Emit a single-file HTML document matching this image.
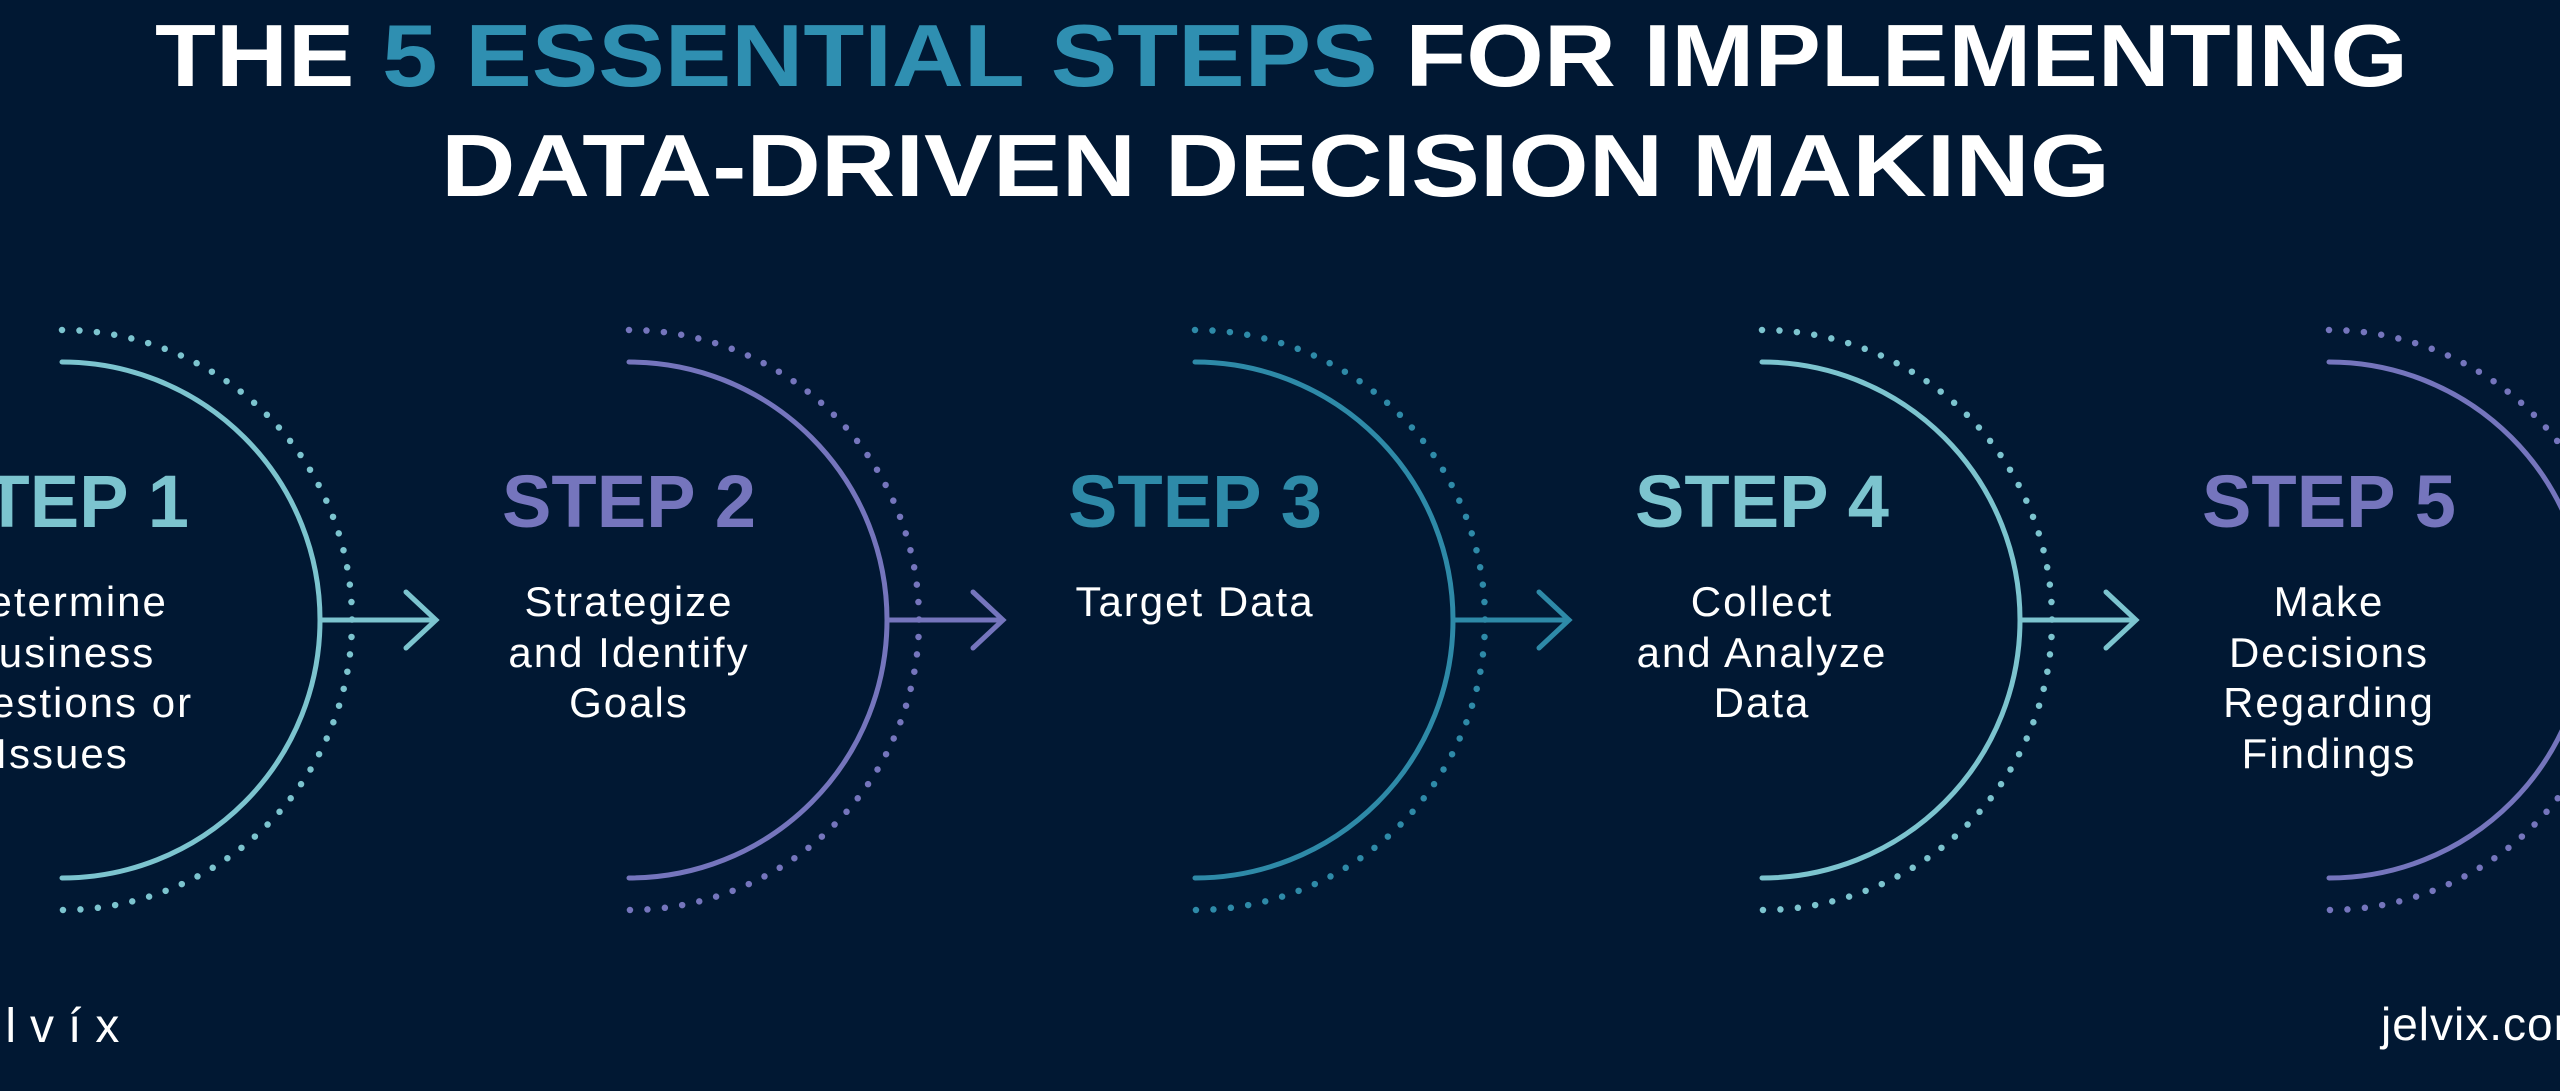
<!DOCTYPE html>
<html><head><meta charset="utf-8"><style>
html,body{margin:0;padding:0;background:#011833;}
svg{display:block}
text{font-family:"Liberation Sans",sans-serif;}
</style></head><body>
<svg width="2560" height="1091" viewBox="0 0 2560 1091" xmlns="http://www.w3.org/2000/svg">
<rect width="2560" height="1091" fill="#011833"/>
<text x="155" y="86" font-size="88" font-weight="bold" fill="#fff" textLength="2253" lengthAdjust="spacingAndGlyphs">THE <tspan fill="#2f8fb1">5 ESSENTIAL STEPS</tspan> FOR IMPLEMENTING</text>
<text x="441" y="196" font-size="88" font-weight="bold" fill="#fff" textLength="1669" lengthAdjust="spacingAndGlyphs">DATA-DRIVEN DECISION MAKING</text>

<g stroke-linecap="round" fill="none">
  <path d="M62 362 A258 258 0 0 1 62 878" stroke="#7cc4cf" stroke-width="5"/>
  <path d="M62 330 A290 290 0 0 1 62 910" stroke="#7cc4cf" stroke-width="6.5" stroke-dasharray="0 17.5"/>
  <path d="M320 620 H436 M406 592 L436 620 L406 648" stroke="#7cc4cf" stroke-width="5"/>
  <path d="M629 362 A258 258 0 0 1 629 878" stroke="#7575bd" stroke-width="5"/>
  <path d="M629 330 A290 290 0 0 1 629 910" stroke="#7575bd" stroke-width="6.5" stroke-dasharray="0 17.5"/>
  <path d="M887 620 H1003 M973 592 L1003 620 L973 648" stroke="#7575bd" stroke-width="5"/>
  <path d="M1195 362 A258 258 0 0 1 1195 878" stroke="#2e8aa8" stroke-width="5"/>
  <path d="M1195 330 A290 290 0 0 1 1195 910" stroke="#2e8aa8" stroke-width="6.5" stroke-dasharray="0 17.5"/>
  <path d="M1453 620 H1569 M1539 592 L1569 620 L1539 648" stroke="#2e8aa8" stroke-width="5"/>
  <path d="M1762 362 A258 258 0 0 1 1762 878" stroke="#7cc4cf" stroke-width="5"/>
  <path d="M1762 330 A290 290 0 0 1 1762 910" stroke="#7cc4cf" stroke-width="6.5" stroke-dasharray="0 17.5"/>
  <path d="M2020 620 H2136 M2106 592 L2136 620 L2106 648" stroke="#7cc4cf" stroke-width="5"/>
  <path d="M2329 362 A258 258 0 0 1 2329 878" stroke="#7575bd" stroke-width="5"/>
  <path d="M2329 330 A290 290 0 0 1 2329 910" stroke="#7575bd" stroke-width="6.5" stroke-dasharray="0 17.5"/>
</g>

<g font-size="74" font-weight="bold" text-anchor="middle">
  <text x="62" y="527" fill="#7cc4cf" textLength="254" lengthAdjust="spacingAndGlyphs">STEP 1</text>
  <text x="629" y="527" fill="#7575bd" textLength="254" lengthAdjust="spacingAndGlyphs">STEP 2</text>
  <text x="1195" y="527" fill="#2e8aa8" textLength="254" lengthAdjust="spacingAndGlyphs">STEP 3</text>
  <text x="1762" y="527" fill="#7cc4cf" textLength="254" lengthAdjust="spacingAndGlyphs">STEP 4</text>
  <text x="2329" y="527" fill="#7575bd" textLength="254" lengthAdjust="spacingAndGlyphs">STEP 5</text>
</g>
<g font-size="42" fill="#fff" text-anchor="middle" letter-spacing="2">
  <text x="62" y="616">Determine</text>
  <text x="62" y="667">Business</text>
  <text x="62" y="717">Questions or</text>
  <text x="62" y="768">Issues</text>
  <text x="629" y="616">Strategize</text>
  <text x="629" y="667">and Identify</text>
  <text x="629" y="717">Goals</text>
  <text x="1195" y="616">Target Data</text>
  <text x="1762" y="616">Collect</text>
  <text x="1762" y="667">and Analyze</text>
  <text x="1762" y="717">Data</text>
  <text x="2329" y="616">Make</text>
  <text x="2329" y="667">Decisions</text>
  <text x="2329" y="717">Regarding</text>
  <text x="2329" y="768">Findings</text>
</g>
<text x="-60" y="1042" font-size="48" fill="#fff" letter-spacing="14">jelvíx</text>
<text x="2381" y="1040" font-size="46" fill="#fff" letter-spacing="1">jelvix.com</text>
</svg>
</body></html>
